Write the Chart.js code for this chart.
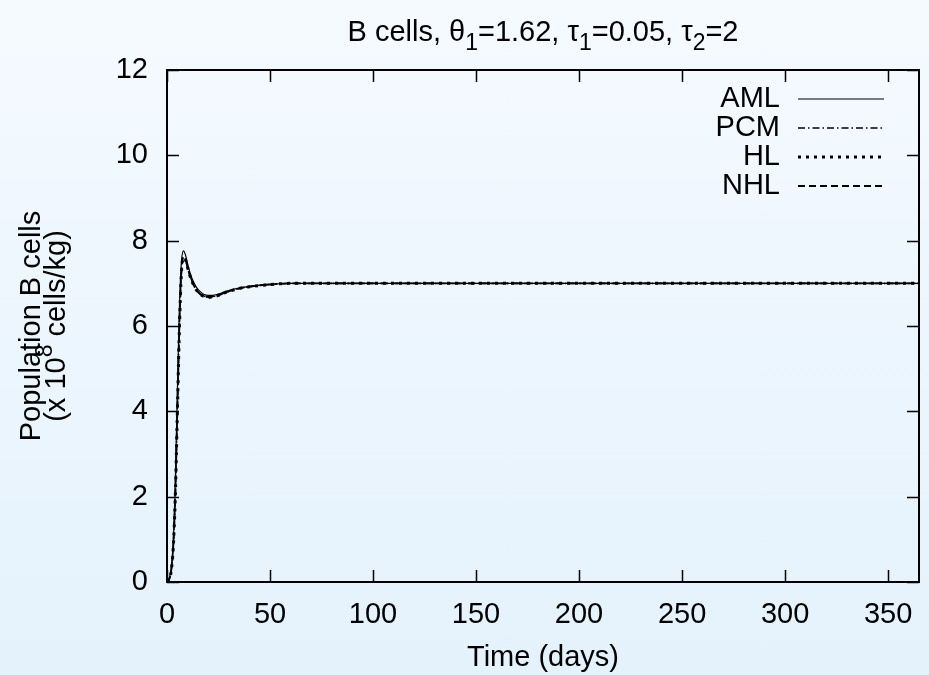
<!DOCTYPE html>
<html>
<head>
<meta charset="utf-8">
<title>B cells</title>
<script src="https://cdn.jsdelivr.net/npm/chart.js@4"></script>
<style>
  html, body { margin: 0; padding: 0; }
  body { width: 929px; height: 675px; background: linear-gradient(#f5faff, #e4f2fc); }
  #wrap { position: relative; width: 929px; height: 675px; }
</style>
</head>
<body>
<div id="wrap"><canvas id="bcells"></canvas></div>
<script>
// Simulated B cell populations (x 10^8 cells/kg) over one year
var days = [0, 1, 2, 3, 4, 5, 6, 7, 8, 9, 10, 11, 12, 14, 16, 18, 20, 22, 25, 28, 32, 36, 40, 45, 50, 55, 60, 70, 80, 90, 100, 125, 150, 200, 250, 300, 365];
var aml = [0.0, 0.08, 0.3, 0.9, 2.3, 4.4, 6.4, 7.5, 7.76, 7.66, 7.46, 7.28, 7.13, 6.93, 6.81, 6.74, 6.72, 6.72, 6.75, 6.8, 6.86, 6.9, 6.93, 6.96, 6.98, 6.99, 7.0, 7.0, 7.0, 7.0, 7.0, 7.0, 7.0, 7.0, 7.0, 7.0, 7.0];
var pcm = [0.0, 0.06, 0.25, 0.8, 2.0, 4.0, 6.0, 7.3, 7.62, 7.56, 7.38, 7.21, 7.07, 6.87, 6.76, 6.7, 6.68, 6.69, 6.72, 6.78, 6.84, 6.89, 6.92, 6.95, 6.97, 6.99, 7.0, 7.0, 7.0, 7.0, 7.0, 7.0, 7.0, 7.0, 7.0, 7.0, 7.0];
var hl = [0.0, 0.06, 0.24, 0.78, 1.95, 3.9, 5.9, 7.25, 7.6, 7.55, 7.37, 7.2, 7.06, 6.86, 6.75, 6.69, 6.67, 6.68, 6.72, 6.78, 6.84, 6.89, 6.92, 6.95, 6.97, 6.99, 7.0, 7.0, 7.0, 7.0, 7.0, 7.0, 7.0, 7.0, 7.0, 7.0, 7.0];
var nhl = [0.0, 0.06, 0.25, 0.8, 2.0, 3.95, 5.95, 7.28, 7.61, 7.55, 7.37, 7.2, 7.06, 6.86, 6.75, 6.69, 6.68, 6.69, 6.72, 6.78, 6.84, 6.89, 6.92, 6.95, 6.97, 6.99, 7.0, 7.0, 7.0, 7.0, 7.0, 7.0, 7.0, 7.0, 7.0, 7.0, 7.0];
var seriesNames = ['AML', 'PCM', 'HL', 'NHL'];
var xTicks = [0, 50, 100, 150, 200, 250, 300, 350];
var yTicks = [0, 2, 4, 6, 8, 10, 12];

var FONT = '"Liberation Sans", Arial, sans-serif';
var FS = 29;

function pts(vals) {
  return days.map(function (d, i) { return { x: d, y: vals[i] }; });
}

function series(label, vals, width, dash) {
  return {
    label: label,
    data: pts(vals),
    borderColor: '#000',
    borderWidth: width,
    borderDash: dash,
    pointRadius: 0,
    fill: false,
    cubicInterpolationMode: 'monotone'
  };
}

// draws a run of text pieces, some lowered (sub) or raised (sup)
function runWidth(ctx, runs) {
  var w = 0;
  runs.forEach(function (r) {
    ctx.font = (r.sub || r.sup ? Math.round(FS * 0.8) : FS) + 'px ' + FONT;
    w += ctx.measureText(r.t).width;
  });
  return w;
}
function drawRun(ctx, runs, x, y) {
  runs.forEach(function (r) {
    var small = r.sub || r.sup;
    ctx.font = (small ? Math.round(FS * 0.8) : FS) + 'px ' + FONT;
    var dy = r.sub ? FS * 0.3 : (r.sup ? -FS * 0.4 : 0);
    ctx.fillText(r.t, x, y + dy);
    x += ctx.measureText(r.t).width;
  });
}

var gnuplotFrame = {
  id: 'gnuplotFrame',
  afterDraw: function (chart) {
    var ctx = chart.ctx, a = chart.chartArea;
    var xs = chart.scales.x, ys = chart.scales.y;
    ctx.save();
    ctx.strokeStyle = '#000';
    ctx.fillStyle = '#000';

    // inward ticks on all four sides
    ctx.lineWidth = 1.5;
    var tl = 12;
    ctx.beginPath();
    xTicks.forEach(function (v) {
      var px = Math.round(xs.getPixelForValue(v)) + 0.5;
      ctx.moveTo(px, a.bottom); ctx.lineTo(px, a.bottom - tl);
      ctx.moveTo(px, a.top); ctx.lineTo(px, a.top + tl);
    });
    yTicks.forEach(function (v) {
      var py = Math.round(ys.getPixelForValue(v)) + 0.5;
      ctx.moveTo(a.left, py); ctx.lineTo(a.left + tl, py);
      ctx.moveTo(a.right, py); ctx.lineTo(a.right - tl, py);
    });
    ctx.stroke();

    // frame
    ctx.lineWidth = 2;
    ctx.strokeRect(a.left, a.top, a.right - a.left, a.bottom - a.top);

    // title
    var title = [
      { t: 'B cells, ' }, { t: 'θ' }, { t: '1', sub: true }, { t: '=1.62, ' },
      { t: 'τ' }, { t: '1', sub: true }, { t: '=0.05, ' },
      { t: 'τ' }, { t: '2', sub: true }, { t: '=2' }
    ];
    ctx.textBaseline = 'alphabetic';
    ctx.textAlign = 'left';
    var cx = (a.left + a.right) / 2;
    drawRun(ctx, title, cx - runWidth(ctx, title) / 2, 41);

    // y axis label, two lines
    ctx.save();
    ctx.translate(0, (a.top + a.bottom) / 2);
    ctx.rotate(-Math.PI / 2);
    ctx.textBaseline = 'middle';
    var l1 = [{ t: 'Population B cells' }];
    var l2 = [{ t: '(x 10' }, { t: '8', sup: true }, { t: ' cells/kg)' }];
    drawRun(ctx, l1, -runWidth(ctx, l1) / 2, 32);
    drawRun(ctx, l2, -runWidth(ctx, l2) / 2, 57);
    ctx.restore();

    // key: label right aligned, line sample to the right
    ctx.font = FS + 'px ' + FONT;
    ctx.textAlign = 'right';
    ctx.textBaseline = 'middle';
    chart.data.datasets.forEach(function (ds, i) {
      var y = 99 + i * 29;
      ctx.fillText(ds.label, 780, y);
      ctx.save();
      ctx.lineWidth = ds.borderWidth;
      ctx.setLineDash(ds.borderDash || []);
      ctx.beginPath();
      ctx.moveTo(798, y);
      ctx.lineTo(884, y);
      ctx.stroke();
      ctx.restore();
    });
    ctx.restore();
  }
};

new Chart(document.getElementById('bcells'), {
  type: 'line',
  data: {
    datasets: [
      series(seriesNames[0], aml, 1.2, []),
      series(seriesNames[1], pcm, 1.6, [7, 3, 1.5, 3]),
      series(seriesNames[2], hl, 3, [3, 5]),
      series(seriesNames[3], nhl, 1.8, [7, 4])
    ]
  },
  options: {
    responsive: true,
    maintainAspectRatio: false,
    animation: false,
    layout: { padding: { top: 70, right: 10, left: 0, bottom: 0 } },
    plugins: { legend: { display: false }, tooltip: { enabled: false } },
    scales: {
      x: {
        type: 'linear',
        min: 0,
        max: 365,
        grid: { display: false, drawTicks: false },
        border: { display: false },
        afterFit: function (s) { s.height = 93; },
        ticks: {
          stepSize: 50,
          includeBounds: false,
          padding: 16,
          color: '#000',
          maxRotation: 0,
          font: { family: FONT, size: FS }
        },
        title: {
          display: true,
          text: 'Time (days)',
          color: '#000',
          padding: { top: 2, bottom: 0 },
          font: { family: FONT, size: FS }
        }
      },
      y: {
        type: 'linear',
        min: 0,
        max: 12,
        grid: { display: false, drawTicks: false },
        border: { display: false },
        afterFit: function (s) { s.width = 167; },
        ticks: {
          stepSize: 2,
          padding: 19,
          color: '#000',
          font: { family: FONT, size: FS }
        }
      }
    }
  },
  plugins: [gnuplotFrame]
});
</script>
</body>
</html>
